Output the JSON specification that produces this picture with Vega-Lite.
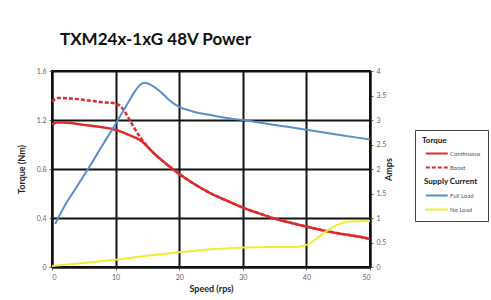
{
  "$schema": "https://vega.github.io/schema/vega-lite/v6.json",
  "autosize": {"type": "none"},
  "width": 318,
  "height": 196,
  "padding": {"left": 52, "top": 71, "right": 121, "bottom": 33},
  "background": "white",
  "title": {"text": "TXM24x-1xG 48V Power", "anchor": "start", "frame": "group", "dx": 8, "offset": 18, "fontSize": 17, "font": "Lato", "fontWeight": "bold", "color": "#111"},
  "config": {
    "view": {"stroke": "#111", "strokeWidth": 2},
    "axis": {"labelFont": "Lato", "labelFontSize": 7, "labelColor": "#666", "titleFont": "Lato", "titleFontSize": 9, "titleFontWeight": "bold", "titleColor": "#222", "domainColor": "#111", "domainWidth": 2, "tickColor": "#666", "tickSize": 3, "gridColor": "#111", "gridWidth": 2, "gridOpacity": 1, "format": "~g"},
    "legend": {"labelFont": "Lato", "titleFont": "Lato"}
  },
  "layer": [
    {
      "data": {"values": [
        {"speed": 0, "torque": 1.165, "series": "Continuous"},
        {"speed": 1, "torque": 1.18, "series": "Continuous"},
        {"speed": 3, "torque": 1.175, "series": "Continuous"},
        {"speed": 5, "torque": 1.16, "series": "Continuous"},
        {"speed": 8, "torque": 1.14, "series": "Continuous"},
        {"speed": 10, "torque": 1.12, "series": "Continuous"},
        {"speed": 12, "torque": 1.08, "series": "Continuous"},
        {"speed": 14, "torque": 1.03, "series": "Continuous"},
        {"speed": 16, "torque": 0.93, "series": "Continuous"},
        {"speed": 18, "torque": 0.84, "series": "Continuous"},
        {"speed": 20, "torque": 0.76, "series": "Continuous"},
        {"speed": 22, "torque": 0.69, "series": "Continuous"},
        {"speed": 25, "torque": 0.6, "series": "Continuous"},
        {"speed": 28, "torque": 0.53, "series": "Continuous"},
        {"speed": 30, "torque": 0.485, "series": "Continuous"},
        {"speed": 33, "torque": 0.43, "series": "Continuous"},
        {"speed": 35, "torque": 0.395, "series": "Continuous"},
        {"speed": 38, "torque": 0.355, "series": "Continuous"},
        {"speed": 40, "torque": 0.33, "series": "Continuous"},
        {"speed": 43, "torque": 0.295, "series": "Continuous"},
        {"speed": 45, "torque": 0.275, "series": "Continuous"},
        {"speed": 48, "torque": 0.25, "series": "Continuous"},
        {"speed": 50, "torque": 0.23, "series": "Continuous"},
        {"speed": 0, "torque": 1.35, "series": "Boost"},
        {"speed": 1, "torque": 1.38, "series": "Boost"},
        {"speed": 3, "torque": 1.375, "series": "Boost"},
        {"speed": 5, "torque": 1.365, "series": "Boost"},
        {"speed": 8, "torque": 1.345, "series": "Boost"},
        {"speed": 10, "torque": 1.335, "series": "Boost"},
        {"speed": 11, "torque": 1.3, "series": "Boost"},
        {"speed": 12, "torque": 1.22, "series": "Boost"},
        {"speed": 13, "torque": 1.13, "series": "Boost"},
        {"speed": 14, "torque": 1.05, "series": "Boost"},
        {"speed": 16, "torque": 0.93, "series": "Boost"},
        {"speed": 18, "torque": 0.84, "series": "Boost"},
        {"speed": 20, "torque": 0.76, "series": "Boost"},
        {"speed": 22, "torque": 0.69, "series": "Boost"},
        {"speed": 25, "torque": 0.6, "series": "Boost"},
        {"speed": 28, "torque": 0.53, "series": "Boost"},
        {"speed": 30, "torque": 0.485, "series": "Boost"},
        {"speed": 33, "torque": 0.43, "series": "Boost"},
        {"speed": 35, "torque": 0.395, "series": "Boost"},
        {"speed": 38, "torque": 0.355, "series": "Boost"},
        {"speed": 40, "torque": 0.33, "series": "Boost"},
        {"speed": 43, "torque": 0.295, "series": "Boost"},
        {"speed": 45, "torque": 0.275, "series": "Boost"},
        {"speed": 48, "torque": 0.25, "series": "Boost"},
        {"speed": 50, "torque": 0.23, "series": "Boost"}
      ]},
      "mark": {"type": "line", "strokeWidth": 2.5, "interpolate": "monotone"},
      "encoding": {
        "x": {"field": "speed", "type": "quantitative", "scale": {"domain": [0, 50], "nice": false}, "axis": {"values": [0, 10, 20, 30, 40, 50], "title": "Speed (rps)", "titlePadding": 4, "labelPadding": 3}},
        "y": {"field": "torque", "type": "quantitative", "scale": {"domain": [0, 1.6], "nice": false}, "axis": {"orient": "left", "values": [0, 0.4, 0.8, 1.2, 1.6], "title": "Torque (Nm)", "titlePadding": 10, "labelPadding": 3}},
        "color": {"field": "series", "type": "nominal", "scale": {"domain": ["Continuous", "Boost", "Supply Current", "Full Load", "No Load"], "range": ["#dc2b2b", "#dc2b2b", "transparent", "#5a8ecb", "#f0ec2e"]},
          "legend": {"title": "Torque", "orient": "none", "legendX": 363, "legendY": 59, "strokeColor": "#444", "fillColor": "white", "padding": 7, "symbolType": "M-0.5,0H3.5", "symbolSize": 121, "symbolStrokeWidth": 2, "labelFontSize": 6, "labelColor": "#555", "titleFontSize": 8, "titleFontWeight": "bold", "titleColor": "#111", "titlePadding": 2, "rowPadding": 3, "labelOffset": 15,
            "encode": {"labels": {"update": {"fontWeight": {"signal": "datum.label == 'Supply Current' ? 'bold' : 'normal'"}, "fontSize": {"signal": "datum.label == 'Supply Current' ? 8 : 6"}, "fill": {"signal": "datum.label == 'Supply Current' ? '#111' : '#555'"}, "dx": {"signal": "datum.label == 'Supply Current' ? -26 : 0"}}}}}},
        "strokeDash": {"field": "series", "type": "nominal", "scale": {"domain": ["Continuous", "Boost", "Supply Current", "Full Load", "No Load"], "range": [[1, 0], [4, 2], [1, 0], [1, 0], [1, 0]]}, "legend": {"title": "Torque"}}
      }
    },
    {
      "data": {"values": [
        {"speed": 0.5, "amps": 0.88, "series": "Full Load"},
        {"speed": 2, "amps": 1.25, "series": "Full Load"},
        {"speed": 4, "amps": 1.66, "series": "Full Load"},
        {"speed": 6, "amps": 2.07, "series": "Full Load"},
        {"speed": 8, "amps": 2.5, "series": "Full Load"},
        {"speed": 10, "amps": 2.92, "series": "Full Load"},
        {"speed": 12, "amps": 3.36, "series": "Full Load"},
        {"speed": 13, "amps": 3.58, "series": "Full Load"},
        {"speed": 14, "amps": 3.73, "series": "Full Load"},
        {"speed": 14.5, "amps": 3.76, "series": "Full Load"},
        {"speed": 15, "amps": 3.75, "series": "Full Load"},
        {"speed": 16, "amps": 3.68, "series": "Full Load"},
        {"speed": 17, "amps": 3.58, "series": "Full Load"},
        {"speed": 18, "amps": 3.46, "series": "Full Load"},
        {"speed": 19, "amps": 3.35, "series": "Full Load"},
        {"speed": 20, "amps": 3.27, "series": "Full Load"},
        {"speed": 22, "amps": 3.18, "series": "Full Load"},
        {"speed": 25, "amps": 3.1, "series": "Full Load"},
        {"speed": 28, "amps": 3.03, "series": "Full Load"},
        {"speed": 30, "amps": 3.0, "series": "Full Load"},
        {"speed": 35, "amps": 2.9, "series": "Full Load"},
        {"speed": 40, "amps": 2.8, "series": "Full Load"},
        {"speed": 45, "amps": 2.7, "series": "Full Load"},
        {"speed": 50, "amps": 2.6, "series": "Full Load"},
        {"speed": 0, "amps": 0.02, "series": "No Load"},
        {"speed": 5, "amps": 0.08, "series": "No Load"},
        {"speed": 10, "amps": 0.15, "series": "No Load"},
        {"speed": 15, "amps": 0.23, "series": "No Load"},
        {"speed": 20, "amps": 0.3, "series": "No Load"},
        {"speed": 25, "amps": 0.36, "series": "No Load"},
        {"speed": 30, "amps": 0.4, "series": "No Load"},
        {"speed": 35, "amps": 0.41, "series": "No Load"},
        {"speed": 38, "amps": 0.41, "series": "No Load"},
        {"speed": 39.5, "amps": 0.43, "series": "No Load"},
        {"speed": 41, "amps": 0.52, "series": "No Load"},
        {"speed": 42, "amps": 0.62, "series": "No Load"},
        {"speed": 43, "amps": 0.72, "series": "No Load"},
        {"speed": 44, "amps": 0.8, "series": "No Load"},
        {"speed": 45, "amps": 0.87, "series": "No Load"},
        {"speed": 46, "amps": 0.91, "series": "No Load"},
        {"speed": 47, "amps": 0.93, "series": "No Load"},
        {"speed": 50, "amps": 0.94, "series": "No Load"}
      ]},
      "mark": {"type": "line", "strokeWidth": 2, "interpolate": "monotone"},
      "encoding": {
        "x": {"field": "speed", "type": "quantitative"},
        "y": {"field": "amps", "type": "quantitative", "scale": {"domain": [0, 4], "nice": false}, "axis": {"orient": "right", "values": [0, 0.5, 1, 1.5, 2, 2.5, 3, 3.5, 4], "grid": false, "title": "Amps", "titleAngle": 270, "titlePadding": 8, "labelPadding": 3}},
        "color": {"field": "series", "type": "nominal", "legend": {"title": "Torque"}}
      }
    }
  ],
  "resolve": {"scale": {"y": "independent"}}
}
